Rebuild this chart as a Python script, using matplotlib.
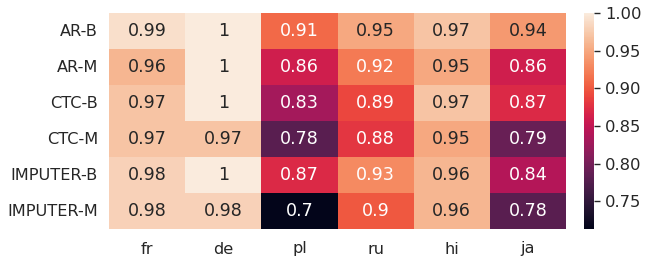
import matplotlib
matplotlib.use('Agg')
import matplotlib.pyplot as plt
import seaborn as sns
import numpy as np

rows = ['AR-B', 'AR-M', 'CTC-B', 'CTC-M', 'IMPUTER-B', 'IMPUTER-M']
cols = ['fr', 'de', 'pl', 'ru', 'hi', 'ja']
vals = [
    [0.99, 1.00, 0.91, 0.95, 0.97, 0.94],
    [0.96, 1.00, 0.86, 0.92, 0.95, 0.86],
    [0.97, 1.00, 0.83, 0.89, 0.97, 0.87],
    [0.97, 0.97, 0.78, 0.88, 0.95, 0.79],
    [0.98, 1.00, 0.87, 0.93, 0.96, 0.84],
    [0.98, 0.98, 0.70, 0.90, 0.96, 0.78],
]

sns.set(font_scale=1.4)
fig = plt.figure(figsize=(6.47, 2.62), dpi=100)
ax = fig.add_axes([109/647, 1-229/262, (566-109)/647, 216/262])
cax = fig.add_axes([584/647, 1-229/262, 10/647, 216/262])
sns.heatmap(np.array(vals), annot=True, fmt='.2g', cmap='rocket',
            vmin=0.713, vmax=1.0,
            xticklabels=cols, yticklabels=rows, ax=ax, cbar_ax=cax,
            cbar_kws={'format': '%.2f', 'ticks': [0.75, 0.80, 0.85, 0.90, 0.95, 1.00]},
            annot_kws={'fontsize': 12.6})
ax.tick_params(axis='both', labelsize=11.6, length=0)
ax.tick_params(axis='y', pad=7.9)
ax.tick_params(axis='x', pad=9)
ax.set_yticklabels(rows, rotation=0)
cax.tick_params(labelsize=11.8, length=4.3, width=1, color='#262626', pad=3.6)
fig.savefig('out.png', dpi=100)
